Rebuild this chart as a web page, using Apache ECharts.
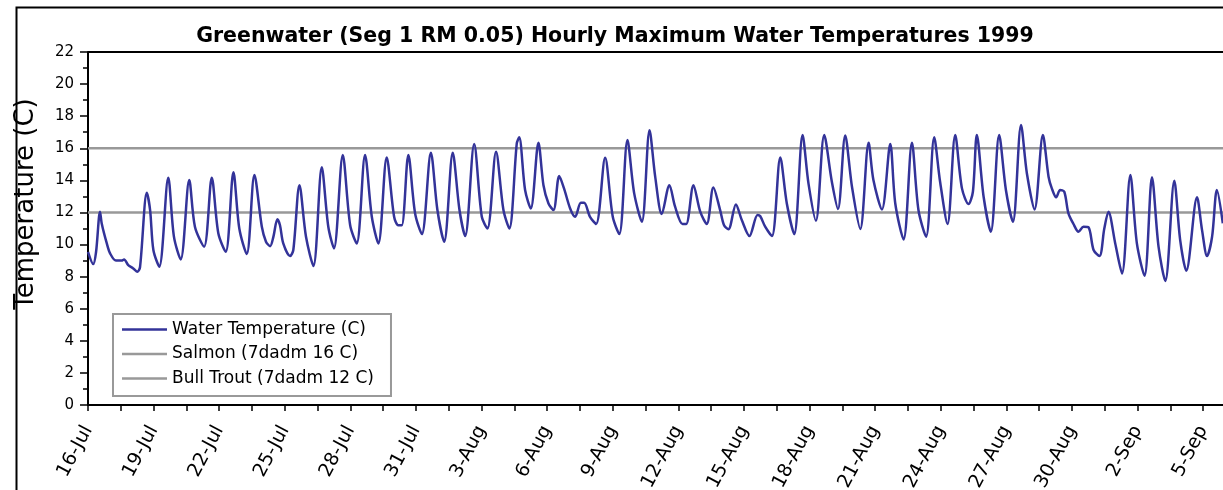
<!DOCTYPE html>
<html><head><meta charset="utf-8">
<script src="https://cdn.jsdelivr.net/npm/echarts@6/dist/echarts.min.js"></script>
<style>html,body{margin:0;padding:0;background:#fff;overflow:hidden}#c{width:1223px;height:490px}</style>
</head><body><div id="c"></div>
<script>
// days since 16-Jul-1999 00:00
const dayOffsets = [
0,0.24,0.37,0.55,0.63,0.86,1.01,1.28,1.54,1.65,1.84,2.07,2.26,2.38,2.69,2.84,2.99,3.26,3.67,3.93,
4.24,4.63,4.89,5.31,5.66,5.96,6.30,6.65,6.92,7.26,7.61,7.95,8.14,8.33,8.48,8.66,8.78,8.93,9.24,9.39,
9.67,9.97,10.31,10.69,10.99,11.25,11.65,11.99,12.29,12.67,12.98,13.28,13.66,14.0,14.19,14.35,14.65,14.96,15.27,15.68,
15.98,16.29,16.68,16.99,17.25,17.66,18.01,18.27,18.66,19.0,19.27,19.61,19.72,19.99,20.25,20.6,20.83,21.06,21.29,21.55,
21.77,22.05,22.28,22.54,22.69,22.96,23.24,23.65,24.0,24.3,24.67,24.98,25.33,25.68,25.94,26.24,26.59,26.85,27.19,27.36,
27.69,28.0,28.3,28.6,28.91,29.09,29.29,29.63,29.9,30.25,30.62,30.74,30.97,31.28,31.66,31.96,32.3,32.68,32.95,33.29,
33.67,34.02,34.3,34.63,34.94,35.32,35.7,35.92,36.31,36.69,36.92,37.3,37.68,37.98,38.33,38.7,38.97,39.31,39.66,39.97,
40.27,40.47,40.65,40.96,41.29,41.67,41.98,42.3,42.67,42.94,43.29,43.67,43.93,44.08,44.28,44.46,44.65,44.84,45.07,45.3,
45.53,45.76,45.99,46.26,46.48,46.67,46.98,47.29,47.67,47.97,48.32,48.66,48.96,49.27,49.68,49.95,50.23,50.72,50.95,51.18,
51.41,51.63,51.9
];
const waterTemps = [
9.55,8.78,9.55,12.05,11.3,10.07,9.45,9.0,9.0,9.07,8.72,8.51,8.3,8.6,13.23,12.15,9.66,8.62,14.16,10.49,
9.07,14.02,11.11,9.87,14.16,10.7,9.55,14.5,11.0,9.41,14.33,11.11,10.18,9.9,10.49,11.57,11.2,10.07,9.28,9.66,
13.7,10.49,8.66,14.81,11.11,9.76,15.58,11.2,10.07,15.58,11.73,10.07,15.43,11.73,11.2,11.2,15.58,11.94,10.65,15.72,
12.15,10.18,15.72,12.15,10.53,16.26,11.73,11.0,15.78,12.15,11.0,16.3,16.68,13.4,12.25,16.34,13.7,12.56,12.15,14.27,
13.5,12.25,11.73,12.6,12.6,11.73,11.28,15.41,11.73,10.65,16.51,13.19,11.42,17.13,14.23,11.9,13.7,12.36,11.28,11.28,
13.7,12.05,11.28,13.56,12.15,11.2,10.95,12.5,11.53,10.53,11.84,11.78,11.11,10.53,15.43,12.56,10.65,16.82,13.81,11.48,
16.82,13.91,12.21,16.8,13.6,10.97,16.34,14.02,12.19,16.26,12.56,10.32,16.34,12.15,10.49,16.68,13.91,11.28,16.82,13.5,
12.52,13.29,16.82,12.98,10.8,16.82,13.4,11.42,17.45,14.43,12.19,16.82,14.23,13.5,12.94,13.4,13.29,11.94,11.28,10.8,
11.11,11.07,9.66,9.28,11.0,12.05,10.07,8.2,14.33,10.07,8.06,14.19,9.87,7.73,13.98,10.28,8.37,12.94,10.9,9.28,
10.49,13.4,11.32
];
const tickLabels = ['16-Jul','19-Jul','22-Jul','25-Jul','28-Jul','31-Jul','3-Aug','6-Aug','9-Aug','12-Aug','15-Aug','18-Aug','21-Aug','24-Aug','27-Aug','30-Aug','2-Sep','5-Sep'];
const seriesNames = ['Water Temperature (C)', 'Salmon (7dadm 16 C)', 'Bull Trout (7dadm 12 C)'];
const salmonLimit = 16;
const bullTroutLimit = 12;
const axisMinDays = 0;
const axisMaxDays = 52;

const FONT = 'DejaVu Sans';
const waterData = dayOffsets.map((d, i) => [d, waterTemps[i]]);
const salmonData = [[axisMinDays, salmonLimit], [axisMaxDays, salmonLimit]];
const bullData = [[axisMinDays, bullTroutLimit], [axisMaxDays, bullTroutLimit]];

const chart = echarts.init(document.getElementById('c'), null, {renderer: 'canvas'});
chart.setOption({
  animation: false,
  backgroundColor: '#fff',
  grid: {left: 88, top: 52, width: 1137, height: 353, show: false, containLabel: false, outerBoundsMode: 'none'},
  graphic: [
    {type: 'rect', left: 14, top: 5, shape: {width: 1400, height: 700}, style: {fill: 'none', stroke: '#000', lineWidth: 2}, z: -1, silent: true},
    {type: 'line', shape: {x1: 88, y1: 52, x2: 1230, y2: 52}, style: {stroke: '#000', lineWidth: 2}, silent: true},
    {type: 'text', x: 615, y: 37, style: {text: 'Greenwater (Seg 1 RM 0.05) Hourly Maximum Water Temperatures 1999', font: 'bold 20.5px "DejaVu Sans"', fill: '#000', align: 'center', verticalAlign: 'middle'}},
    {type: 'text', x: 26, y: 204, rotation: Math.PI / 2, style: {text: 'Temperature (C)', font: '26px "DejaVu Sans"', fill: '#000', align: 'center', verticalAlign: 'middle'}}
  ],
  legend: {
    data: seriesNames,
    orient: 'vertical',
    left: 113, top: 314,
    padding: [7, 17, 9, 9],
    itemGap: 7.5,
    icon: 'rect',
    itemWidth: 45, itemHeight: 2.5,
    borderColor: '#999', borderWidth: 2, borderRadius: 0,
    backgroundColor: '#fff',
    textStyle: {fontFamily: FONT, fontSize: 17, color: '#000'}
  },
  xAxis: {
    type: 'value', min: axisMinDays, max: axisMaxDays, interval: 1.5,
    axisLine: {show: true, onZero: false, lineStyle: {color: '#000', width: 2}},
    axisTick: {show: true, inside: false, length: 6, lineStyle: {color: '#000', width: 1.5}},
    splitLine: {show: false},
    axisLabel: {
      rotate: 62, margin: 22, fontFamily: FONT, fontSize: 19, color: '#000',
      formatter: function (v) {
        const r = Math.round(v / 3);
        if (Math.abs(v - r * 3) < 1e-6 && r < tickLabels.length) return tickLabels[r];
        return '';
      }
    }
  },
  yAxis: {
    type: 'value', min: 0, max: 22, interval: 2,
    axisLine: {show: true, lineStyle: {color: '#000', width: 2}},
    axisTick: {show: true, inside: false, length: 8, lineStyle: {color: '#000', width: 1.5}},
    minorTick: {show: true, splitNumber: 2, length: 5, lineStyle: {color: '#000', width: 1.5}},
    splitLine: {show: false},
    axisLabel: {margin: 14, fontFamily: FONT, fontSize: 15, color: '#000'}
  },
  series: [
    {name: seriesNames[0], type: 'line', data: waterData, symbol: 'none', smooth: 0.3, z: 5,
     lineStyle: {color: '#333399', width: 2.5}, itemStyle: {color: '#333399'}},
    {name: seriesNames[1], type: 'line', data: salmonData, symbol: 'none', z: 3,
     lineStyle: {color: '#999999', width: 2.5}, itemStyle: {color: '#999999'}},
    {name: seriesNames[2], type: 'line', data: bullData, symbol: 'none', z: 3,
     lineStyle: {color: '#999999', width: 2.5}, itemStyle: {color: '#999999'}}
  ]
});
</script>
</body></html>
